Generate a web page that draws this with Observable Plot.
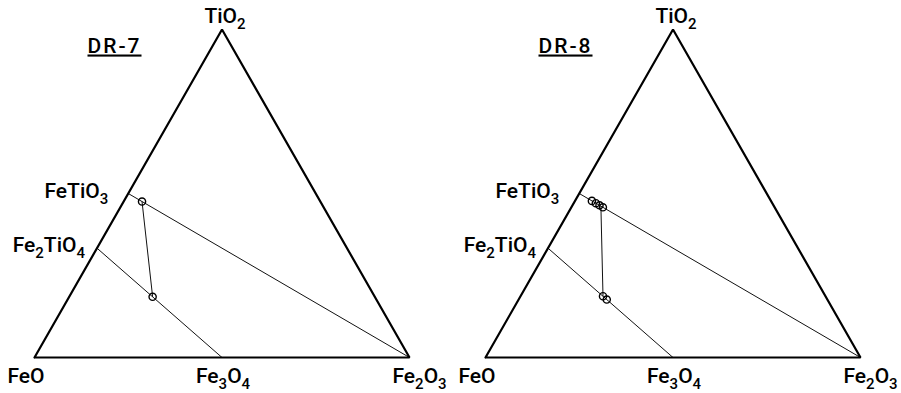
<!DOCTYPE html>
<html><head><meta charset="utf-8">
<script src="https://cdn.jsdelivr.net/npm/d3@7"></script>
<script src="https://cdn.jsdelivr.net/npm/@observablehq/plot@0.6"></script>
<style>
body{margin:0;background:#fff;}
#wrap{display:flex;width:901px;height:393px;overflow:hidden;}
#wrap svg{display:block;flex:none;}
</style></head><body><div id="wrap"></div>
<script>
// Samples (one ternary panel each)
const samples = ["DR-7", "DR-8"];
// End members: mole fractions of FeO, Fe2O3, TiO2
const endmembers = ["FeO", "Fe3O4", "Fe2O3", "TiO2", "FeTiO3", "Fe2TiO4"];
const endFeO   = [1, 0.5, 0, 0, 0.5, 2/3];
const endFe2O3 = [0, 0.5, 1, 0, 0, 0];
const endTiO2  = [0, 0, 0, 1, 0.5, 1/3];
// Triangle outline
const outline = ["FeO", "Fe2O3", "TiO2", "FeO"];
// Solid-solution joins
const joinFrom = ["FeTiO3", "Fe2TiO4"];
const joinTo   = ["Fe2O3", "Fe3O4"];
// Analyses: fraction along the join (ilm: FeTiO3→Fe2O3, mt: Fe2TiO4→Fe3O4)
const pointSample = ["DR-7", "DR-7", "DR-8", "DR-8", "DR-8", "DR-8", "DR-8", "DR-8"];
const pointSeries = ["ilm", "mt", "ilm", "ilm", "ilm", "ilm", "mt", "mt"];
const pointFrac   = [0.049, 0.445, 0.045, 0.059, 0.072, 0.084, 0.44, 0.47];
// Tie lines between coexisting ilmenite and magnetite
const tieSample = ["DR-7", "DR-8"];
const tieIlm = [0.049, 0.077];
const tieMt  = [0.445, 0.44];

const S3 = Math.sqrt(3) / 2;
function comp(name) {
  const i = endmembers.indexOf(name);
  return {FeO: endFeO[i], Fe2O3: endFe2O3[i], TiO2: endTiO2[i]};
}
function mix(a, b, f) {
  return {FeO: a.FeO * (1 - f) + b.FeO * f, Fe2O3: a.Fe2O3 * (1 - f) + b.Fe2O3 * f, TiO2: a.TiO2 * (1 - f) + b.TiO2 * f};
}
function proj(c) {
  const s = c.FeO + c.Fe2O3 + c.TiO2;
  return {x: (c.Fe2O3 + c.TiO2 / 2) / s, y: (c.TiO2 * S3) / s};
}
const seriesEnds = {ilm: ["FeTiO3", "Fe2O3"], mt: ["Fe2TiO4", "Fe3O4"]};
function onSeries(series, f) {
  const [a, b] = seriesEnds[series];
  return proj(mix(comp(a), comp(b), f));
}

const FONT = "Roboto, 'DejaVu Sans', sans-serif";
const labelSpec = [
  {name: "TiO2", anchor: "middle", dx: 3, dy: -7},
  {name: "FeO", anchor: "start", dx: -27, dy: 25},
  {name: "Fe3O4", anchor: "start", dx: -26, dy: 25},
  {name: "Fe2O3", anchor: "start", dx: -17, dy: 25},
  {name: "FeTiO3", anchor: "end", dx: -20, dy: 4},
  {name: "Fe2TiO4", anchor: "end", dx: -12, dy: 4}
];

function chart(sample, w) {
  const tri = outline.map(n => proj(comp(n)));
  const joins = joinFrom.map((a, i) => {
    const p = proj(comp(a)), q = proj(comp(joinTo[i]));
    return {x1: p.x, y1: p.y, x2: q.x, y2: q.y};
  });
  const pts = pointSample.map((s, i) => ({s, ...onSeries(pointSeries[i], pointFrac[i])})).filter(d => d.s === sample);
  const ties = tieSample.map((s, i) => {
    const p = onSeries("ilm", tieIlm[i]), q = onSeries("mt", tieMt[i]);
    return {s, x1: p.x, y1: p.y, x2: q.x, y2: q.y};
  }).filter(d => d.s === sample);

  const labelMarks = labelSpec.map(L => {
    const p = proj(comp(L.name));
    return Plot.text([{...p, t: L.name}], {
      x: "x", y: "y", text: "t", textAnchor: L.anchor, lineAnchor: "bottom",
      dx: L.dx, dy: L.dy, fontSize: 21, fontWeight: 500, fill: "black"
    });
  });

  const svg = Plot.plot({
    width: w, height: 393, margin: 0,
    style: {fontFamily: FONT, background: "white", overflow: "visible"},
    x: {domain: [0, 1], range: [34, 409], axis: null},
    y: {domain: [0, S3], range: [357, 29], axis: null},
    marks: [
      Plot.link(joins, {x1: "x1", y1: "y1", x2: "x2", y2: "y2", stroke: "#111", strokeWidth: 1}),
      Plot.link(ties, {x1: "x1", y1: "y1", x2: "x2", y2: "y2", stroke: "#111", strokeWidth: 1}),
      Plot.line(tri, {x: "x", y: "y", stroke: "black", strokeWidth: 2.2, strokeLinejoin: "miter"}),
      Plot.dot(pts, {x: "x", y: "y", r: 3.6, stroke: "black", strokeWidth: 1.4, fill: "none"}),
      ...labelMarks,
      Plot.text([sample], {frameAnchor: "top-left", textAnchor: "start", lineAnchor: "bottom",
        dx: 87, dy: 52, fontSize: 21, fontWeight: 500, fill: "black"})
    ]
  });

  d3.select(svg).selectAll("text").each(function () {
    const t = this.textContent;
    if (t === sample) {
      d3.select(this).style("letter-spacing", "2px").style("text-decoration", "underline")
        .style("text-decoration-thickness", "2px").style("text-underline-offset", "5px");
      return;
    }
    if (!/\d/.test(t)) return;
    const sel = d3.select(this);
    sel.text(null);
    const parts = t.match(/\d+|\D+/g);
    let shifted = false;
    parts.forEach(p => {
      const ts = sel.append("tspan").text(p);
      if (/\d/.test(p)) { ts.attr("font-size", 15).attr("dy", shifted ? 0 : 6); shifted = true; }
      else if (shifted) { ts.attr("dy", -6); shifted = false; }
    });
  });
  return svg;
}

const wrap = document.getElementById("wrap");
wrap.appendChild(chart(samples[0], 451));
wrap.appendChild(chart(samples[1], 450));
</script></body></html>
